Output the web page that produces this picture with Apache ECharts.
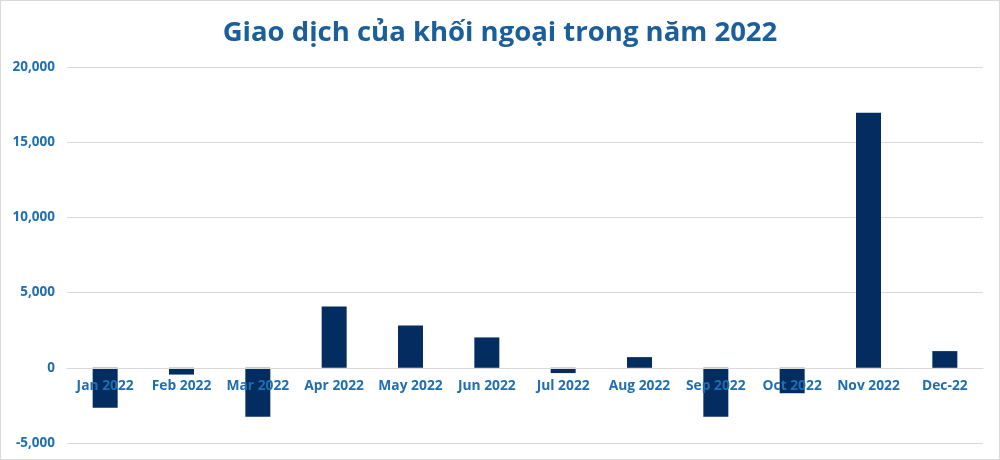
<!DOCTYPE html>
<html>
<head>
<meta charset="utf-8">
<script src="https://cdn.jsdelivr.net/npm/echarts@6/dist/echarts.min.js"></script>
<style>
html,body{margin:0;padding:0;background:#fff;}
#c{width:998px;height:458px;border:1px solid #d9d9d9;}
</style>
</head>
<body>
<div id="c"></div>
<script>
const title = 'Giao dịch của khối ngoại trong năm 2022';
const categories = ['Jan 2022','Feb 2022','Mar 2022','Apr 2022','May 2022','Jun 2022','Jul 2022','Aug 2022','Sep 2022','Oct 2022','Nov 2022','Dec-22'];
const values = [-2650, -450, -3250, 4070, 2820, 2020, -350, 710, -3250, -1690, 16950, 1110];
const yMin = -5000, yMax = 20000, yStep = 5000;

const gridTop = 66, gridBottom = 16, chartH = 458;
const plotH = chartH - gridTop - gridBottom;
const zeroOffset = plotH * (0 - yMin) / (yMax - yMin);

const chart = echarts.init(document.getElementById('c'));
chart.setOption({
  animation: false,
  title: {
    text: title, left: 'center', top: 13,
    textStyle: {fontFamily: '"Open Sans", sans-serif', fontSize: 27.5, fontWeight: 'bold', color: '#1b5e9c'}
  },
  grid: {left: 66, right: 16, top: gridTop, bottom: gridBottom, containLabel: false, outerBoundsMode: 'none'},
  xAxis: {
    type: 'category', data: categories, z: 10, position: 'bottom', offset: -zeroOffset,
    axisLine: {onZero: false, lineStyle: {color: '#d9d9d9', width: 1}},
    axisTick: {show: false},
    axisLabel: {color: '#1f6fb0', fontSize: 13.8, fontWeight: 'bold', fontFamily: '"Open Sans", sans-serif', margin: 11, interval: 0}
  },
  yAxis: {
    type: 'value', min: yMin, max: yMax, interval: yStep,
    axisLine: {show: false}, axisTick: {show: false},
    splitLine: {lineStyle: {color: '#d9d9d9', width: 1}},
    axisLabel: {color: '#1f6fb0', fontSize: 13.5, fontWeight: 'bold', fontFamily: '"Open Sans", sans-serif', margin: 12,
      formatter: v => v.toLocaleString('en-US')}
  },
  series: [{
    type: 'bar', data: values, barWidth: 25,
    itemStyle: {color: '#032d60'}
  }]
});
</script>
</body>
</html>
